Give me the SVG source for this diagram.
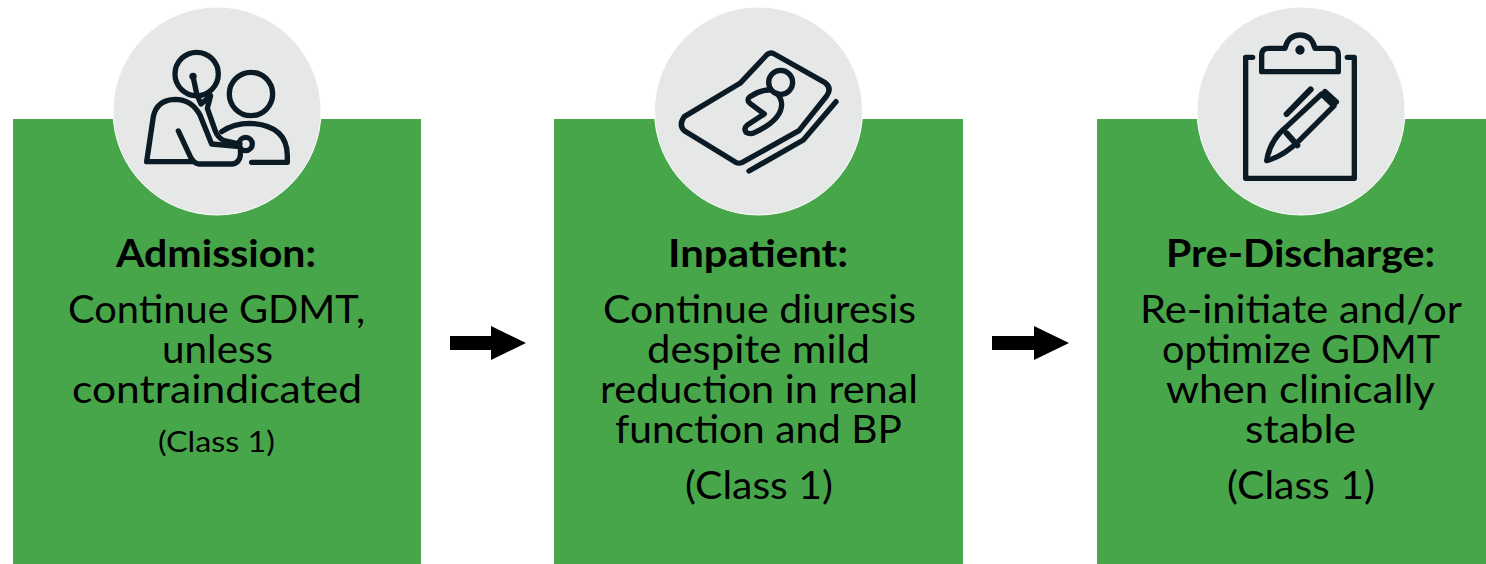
<svg xmlns="http://www.w3.org/2000/svg" width="1486" height="564" viewBox="0 0 1486 564">
<style>
.box{fill:#48a64a}
.disc{fill:#e6e7e7;stroke:#fff;stroke-width:1}
.ico{fill:none;stroke:#0b1b26;stroke-width:16;stroke-linecap:round;stroke-linejoin:round}
.dot{fill:#0b1b26}
text{font-family:"Lato","Liberation Sans",sans-serif;fill:#000;text-anchor:middle}
.h{font-size:38px;font-weight:700}
.b{font-size:38px}
.s{font-size:29px}
.arrow{fill:#000}
</style>
<rect width="1486" height="564" fill="#fff"/>
<g id="node-admission">
<rect class="box" x="13" y="119" width="408" height="445"/>
<circle class="disc" cx="217" cy="111" r="104"/>
<g transform="translate(100,0) scale(.3333)">
<circle class="ico" cx="290" cy="222" r="65"/>
<circle class="ico" cx="453" cy="282" r="65"/>
<path class="ico" d="M279 229L291 285L303 312L332 287L322 325L345 390Q352 412 372 422L420 432"/>
<circle class="dot" cx="279" cy="229" r="11"/>
<path class="ico" d="M275 485H140L160 350Q170 300 225 298Q275 298 300 345L335 432L420 440Q425 470 415 482Q408 492 395 492H295Q282 490 272 472L235 393"/>
<circle class="ico" cx="437" cy="432" r="20"/>
<path class="ico" d="M365 395Q400 370 450 370Q560 375 562 465V487H455"/>
</g>
<text class="h" x="216" y="267" textLength="200" lengthAdjust="spacingAndGlyphs">Admission:</text>
<text class="b" x="216.500" y="323" textLength="297" lengthAdjust="spacingAndGlyphs">Continue GDMT,</text>
<text class="b" x="217.500" y="363" textLength="111" lengthAdjust="spacingAndGlyphs">unless</text>
<text class="b" x="217" y="403" textLength="290" lengthAdjust="spacingAndGlyphs">contraindicated</text>
<text class="s" x="216.500" y="452" textLength="117" lengthAdjust="spacingAndGlyphs">(Class 1)</text>
</g>
<g id="node-inpatient">
<rect class="box" x="554" y="119" width="409" height="445"/>
<circle class="disc" cx="758.500" cy="111" r="104"/>
<g transform="translate(645,0) scale(.3333)">
<path class="ico" d="M365 165Q375 155 388 162L540 248Q562 265 545 288L462 392L292 487Q282 492 272 487L118 392Q100 375 118 350L285 250Z"/>
<circle class="ico" cx="407" cy="247" r="36"/>
<path class="ico" d="M372 270Q345 270 315 290Q303 300 315 310L358 342L307 375Q295 385 303 397Q315 405 330 397Q410 360 410 312Q408 292 395 280"/>
<path class="ico" d="M312 513L475 420L573 305"/>
</g>
<text class="h" x="758" y="267" textLength="180" lengthAdjust="spacingAndGlyphs">Inpatient:</text>
<text class="b" x="759.500" y="323" textLength="313" lengthAdjust="spacingAndGlyphs">Continue diuresis</text>
<text class="b" x="758.500" y="363" textLength="223" lengthAdjust="spacingAndGlyphs">despite mild</text>
<text class="b" x="759" y="403" textLength="318" lengthAdjust="spacingAndGlyphs">reduction in renal</text>
<text class="b" x="758.500" y="443" textLength="287" lengthAdjust="spacingAndGlyphs">function and BP</text>
<text class="b" x="759" y="499" textLength="148" lengthAdjust="spacingAndGlyphs">(Class 1)</text>
</g>
<g id="node-pre-discharge">
<rect class="box" x="1097" y="119" width="389" height="445"/>
<circle class="disc" cx="1301" cy="111" r="104"/>
<g transform="translate(1190,0) scale(.3333)">
<path class="ico" d="M188 172H167V535H493V172H472"/>
<path class="ico" d="M215 215V165Q215 145 235 145H285Q295 105 330 105Q365 105 375 145H425Q445 145 445 165V215Z"/>
<circle class="dot" cx="330" cy="150" r="14"/>
<path class="ico" d="M230 482Q240 420 290 380L395 282L432 318L330 420Q280 470 230 482Z"/>
<path class="ico" d="M290 400L322 436M405 276L438 306M290 342L362 268" style="stroke-width:18"/>
</g>
<text class="h" x="1300.500" y="267" textLength="269" lengthAdjust="spacingAndGlyphs">Pre-Discharge:</text>
<text class="b" x="1301" y="323" textLength="322" lengthAdjust="spacingAndGlyphs">Re-initiate and/or</text>
<text class="b" x="1301" y="363" textLength="278" lengthAdjust="spacingAndGlyphs">optimize GDMT</text>
<text class="b" x="1300.500" y="403" textLength="269" lengthAdjust="spacingAndGlyphs">when clinically</text>
<text class="b" x="1300.500" y="443" textLength="111" lengthAdjust="spacingAndGlyphs">stable</text>
<text class="b" x="1301" y="499" textLength="148" lengthAdjust="spacingAndGlyphs">(Class 1)</text>
</g>
<g id="connectors">
<path class="arrow" d="M450 336H491V326L526 343L491 360V350H450Z"/>
<path class="arrow" d="M992 336H1034V326L1069 343L1034 360V350H992Z"/>
</g>
</svg>
